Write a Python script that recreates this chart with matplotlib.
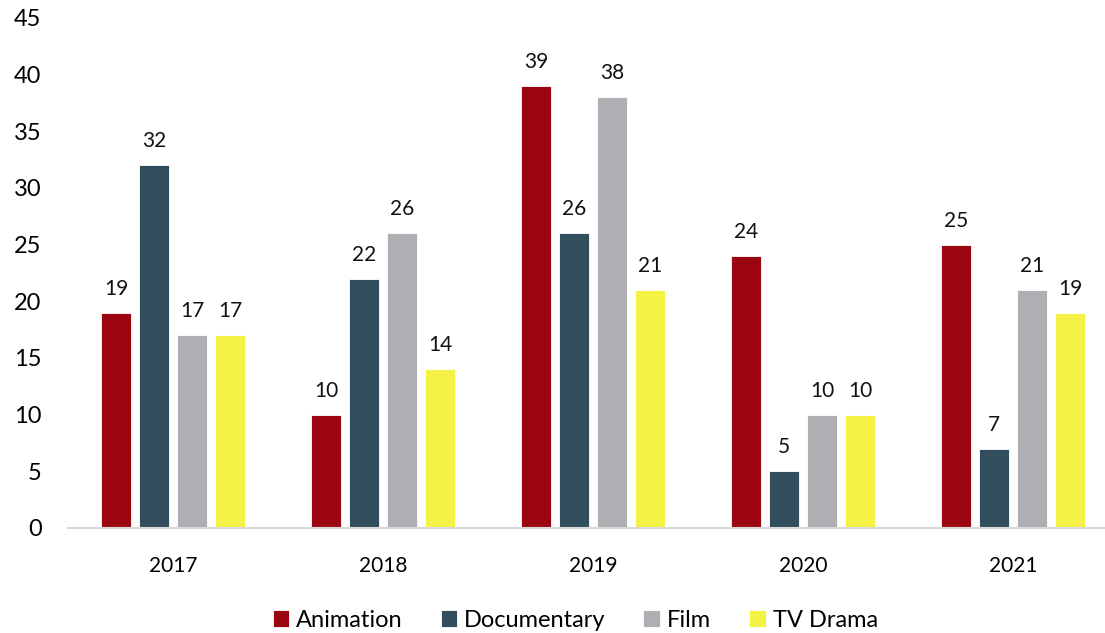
import numpy as np
import matplotlib.pyplot as plt

plt.rcParams['font.family'] = ['Lato', 'DejaVu Sans']

years = ['2017', '2018', '2019', '2020', '2021']
series_names = ['Animation', 'Documentary', 'Film', 'TV Drama']
animation = [19, 10, 39, 24, 25]
documentary = [32, 22, 26, 5, 7]
film = [17, 26, 38, 10, 21]
tv_drama = [17, 14, 21, 10, 19]
colors = ['#9B0510', '#324D5C', '#AEAFB3', '#F4F345']

fig = plt.figure(figsize=(11.05, 6.33), dpi=100)
ax = fig.add_axes([68 / 1105, 105 / 633, 1050 / 1105, 510 / 633])

x = np.arange(len(years))
width = 0.143
step = 0.181
all_series = [animation, documentary, film, tv_drama]
for i, (name, vals, c) in enumerate(zip(series_names, all_series, colors)):
    pos = x + (i - 1.5) * step
    bars = ax.bar(pos, vals, width, color=c, label=name, edgecolor='white', linewidth=0.6)
    ax.bar_label(bars, labels=[str(v) for v in vals], padding=10, fontsize=15, color='#111111')

ax.set_xlim(-0.5, 4.5)
ax.set_ylim(0, 45)
ax.set_yticks(range(0, 46, 5))
ax.set_xticks(x)
ax.set_xticklabels(years)
ax.tick_params(axis='y', length=0, labelsize=17, pad=19)
ax.tick_params(axis='x', length=0, labelsize=15, pad=20)
for s in ['top', 'right', 'left']:
    ax.spines[s].set_visible(False)
ax.spines['bottom'].set_color('#D9D9D9')
ax.spines['bottom'].set_linewidth(1.5)

ax.legend(loc='lower center', bbox_to_anchor=(0.483, -0.243), ncol=4, frameon=False,
          fontsize=17, handlelength=0.7, handleheight=0.7, handletextpad=0.3, columnspacing=1.6)

fig.savefig('out.png', dpi=100)
